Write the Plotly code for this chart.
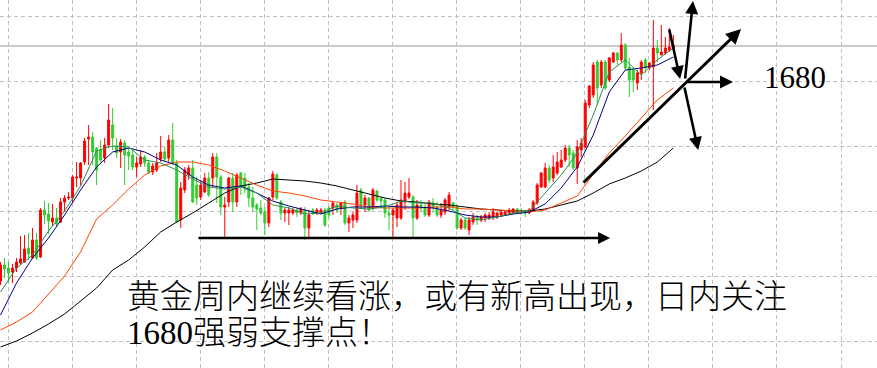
import plotly.graph_objects as go

# ---------------- data ----------------
opens = [1640.0,1643.2,1642.6,1641.8,1642.6,1643.6,1643.8,1646.6,1644.6,1648.2,
         1644.8,1654.2,1653.4,1651.8,1652.6,1651.8,1655.8,1656.6,1656.6,1660.6,
         1660.6,1663.8,1668.4,1668.8,1666.6,1666.2,1664.6,1667.2,1671.2,1667.0,
         1665.8,1667.6,1665.8,1665.2,1662.8,1663.4,1664.8,1663.6,1661.8,1662.2,
         1664.4,1665.8,1664.6,1668.2,1663.6,1652.2,1658.2,1661.2,1662.6,1659.2,
         1656.8,1657.8,1660.6,1660.6,1664.8,1660.8,1654.8,1655.8,1660.6,1655.8,
         1661.6,1660.6,1658.8,1656.6,1655.2,1654.6,1653.8,1651.6,1656.8,1661.2,
         1655.8,1653.6,1653.6,1653.6,1654.2,1653.6,1654.2,1650.6,1654.2,1653.6,
         1653.6,1654.2,1654.6,1654.6,1655.2,1654.6,1655.8,1651.6,1652.2,1652.2,
         1658.2,1655.2,1656.6,1654.6,1658.0,1656.6,1656.2,1653.6,1653.2,1652.6,
         1652.6,1655.8,1656.8,1656.8,1652.6,1655.2,1654.8,1653.2,1655.6,1654.8,
         1653.2,1653.8,1654.8,1655.6,1654.8,1650.6,1652.2,1650.2,1651.8,1652.8,
         1652.2,1652.6,1652.6,1652.8,1652.8,1653.2,1653.2,1653.6,1653.6,1654.4,
         1654.0,1653.8,1653.6,1654.0,1655.6,1658.8,1658.8,1662.6,1660.6,1661.6,
         1662.8,1664.2,1666.6,1665.6,1662.6,1666.2,1666.8,1675.2,1677.2,1683.8,
         1679.2,1683.8,1680.2,1683.8,1685.6,1684.2,1687.2,1682.8,1682.2,1679.6,
         1681.6,1684.2,1682.6,1682.8,1686.6,1685.2,1685.6,1686.2,1686.6]
highs = [1643.8,1644.6,1643.8,1643.4,1644.6,1649.0,1649.2,1649.6,1650.6,1649.6,
         1654.6,1656.0,1655.6,1655.4,1654.6,1656.6,1657.2,1657.8,1661.2,1663.8,
         1663.8,1668.6,1671.2,1669.8,1666.8,1668.2,1668.6,1675.4,1674.6,1668.6,
         1668.4,1668.2,1666.6,1666.2,1664.8,1666.2,1665.2,1664.2,1663.6,1665.6,
         1669.0,1666.8,1669.2,1671.6,1664.2,1659.8,1662.8,1663.2,1664.2,1660.8,
         1660.2,1661.6,1661.8,1665.6,1665.6,1661.2,1656.8,1660.8,1661.6,1661.6,
         1661.8,1661.6,1659.6,1658.8,1655.6,1656.2,1654.8,1656.8,1662.0,1661.6,
         1656.2,1654.6,1654.8,1654.6,1654.6,1654.8,1654.8,1654.2,1654.6,1654.6,
         1654.6,1654.6,1655.0,1655.8,1655.6,1655.8,1656.2,1653.2,1653.8,1659.2,
         1658.6,1657.2,1656.8,1658.6,1658.2,1656.8,1656.6,1654.8,1654.6,1655.8,
         1660.2,1659.8,1660.6,1657.2,1656.2,1656.2,1655.6,1656.2,1656.6,1655.8,
         1655.6,1656.6,1657.8,1655.8,1655.2,1652.6,1652.6,1652.8,1653.6,1653.2,
         1653.2,1653.6,1653.8,1654.6,1653.8,1654.2,1654.2,1654.6,1654.6,1654.6,
         1654.6,1654.2,1654.6,1656.2,1659.6,1661.8,1663.6,1663.2,1665.2,1665.8,
         1666.2,1667.2,1667.2,1666.2,1668.2,1668.6,1676.2,1679.2,1683.8,1684.2,
         1684.2,1684.2,1684.8,1685.8,1685.8,1689.6,1687.6,1684.6,1682.6,1682.2,
         1684.2,1684.6,1683.8,1692.2,1688.2,1691.2,1688.8,1690.6,1689.2]
lows = [1639.2,1640.6,1639.8,1639.6,1641.8,1643.2,1643.6,1644.2,1644.4,1644.2,
        1644.6,1651.4,1649.4,1651.0,1651.0,1651.6,1653.8,1656.2,1655.8,1658.8,
        1659.2,1663.2,1663.2,1663.2,1659.2,1663.8,1663.6,1666.6,1666.2,1664.6,
        1662.6,1659.2,1662.2,1662.2,1660.8,1662.8,1662.8,1661.4,1661.2,1661.8,
        1663.8,1663.8,1663.8,1663.2,1651.6,1650.6,1657.6,1660.2,1655.6,1655.2,
        1656.2,1657.6,1656.8,1658.8,1655.6,1653.2,1648.6,1654.8,1653.8,1654.8,
        1657.2,1657.6,1654.8,1653.8,1650.2,1653.2,1649.2,1650.8,1656.2,1656.2,
        1652.2,1651.8,1651.2,1653.2,1652.8,1653.2,1648.2,1648.8,1653.2,1653.2,
        1653.4,1650.8,1652.6,1653.2,1653.6,1653.2,1651.2,1649.8,1650.6,1651.6,
        1654.6,1653.8,1653.8,1654.2,1655.8,1654.8,1652.6,1650.2,1648.8,1650.8,
        1652.2,1654.2,1656.4,1648.8,1652.2,1653.8,1652.8,1652.8,1653.6,1652.8,
        1652.6,1653.2,1654.2,1654.2,1650.2,1650.2,1650.2,1649.2,1651.2,1651.2,
        1651.8,1651.8,1652.2,1652.2,1652.4,1652.8,1653.0,1653.2,1653.4,1653.4,
        1653.2,1652.8,1653.4,1653.8,1655.2,1658.6,1658.6,1659.6,1659.8,1661.2,
        1662.6,1663.8,1662.8,1662.2,1659.4,1664.8,1666.6,1674.6,1676.6,1675.2,
        1678.6,1678.2,1679.8,1683.6,1683.2,1683.8,1682.2,1676.8,1677.8,1678.2,
        1680.2,1681.6,1682.2,1674.2,1683.8,1685.2,1685.2,1685.8,1686.2]
closes = [1643.2,1642.4,1641.6,1642.6,1643.8,1644.4,1646.4,1645.4,1648.2,1644.6,
          1654.2,1653.2,1652.0,1652.6,1651.4,1655.8,1656.6,1656.8,1660.8,1660.8,
          1663.6,1668.0,1668.8,1665.8,1662.2,1664.2,1667.2,1672.2,1668.6,1665.6,
          1667.8,1665.2,1665.0,1662.8,1663.6,1664.8,1663.6,1661.8,1663.0,1663.6,
          1665.8,1664.4,1668.2,1663.6,1651.8,1658.6,1662.2,1662.6,1655.8,1656.6,
          1659.2,1660.6,1657.2,1664.8,1660.8,1654.8,1655.2,1660.6,1655.8,1661.2,
          1658.8,1658.8,1656.6,1654.8,1654.4,1653.6,1651.6,1656.6,1661.4,1656.6,
          1653.6,1654.2,1654.2,1654.2,1653.6,1654.4,1650.6,1653.2,1653.6,1654.2,
          1654.2,1651.2,1653.2,1655.6,1654.2,1655.6,1651.6,1652.6,1653.2,1657.6,
          1655.2,1656.6,1654.2,1658.2,1656.2,1656.0,1653.6,1653.2,1654.2,1655.2,
          1656.2,1657.6,1657.6,1652.6,1655.2,1654.6,1653.2,1655.8,1654.8,1653.2,
          1654.2,1656.2,1657.2,1654.8,1650.6,1652.2,1650.6,1652.2,1652.8,1652.2,
          1652.8,1653.2,1653.2,1653.8,1653.6,1653.8,1653.8,1654.2,1654.4,1653.6,
          1653.6,1653.6,1654.2,1655.8,1659.2,1661.6,1662.6,1660.2,1662.8,1663.8,
          1664.2,1666.6,1665.2,1662.6,1666.8,1667.6,1675.6,1679.0,1683.2,1678.6,
          1683.8,1678.6,1684.6,1685.6,1684.2,1687.2,1682.6,1680.2,1680.2,1681.6,
          1683.8,1682.6,1683.6,1686.6,1685.6,1685.8,1686.6,1686.8,1687.2]

# moving averages, read every 4th bar
ma_idx = list(range(0, 169, 4))
ma_fast = [1637.8,1642.6,1645.2,1650.0,1654.0,1659.0,1666.0,1667.0,1666.8,1664.2,
           1663.6,1662.2,1660.4,1658.8,1658.4,1658.8,1657.6,1655.2,1654.6,1653.4,
           1653.6,1655.0,1654.6,1654.4,1654.8,1656.0,1655.6,1655.6,1654.6,1652.6,
           1652.2,1652.8,1653.6,1654.0,1657.6,1661.2,1665.6,1673.2,1681.8,1684.2,
           1681.2,1684.2,1686.6]
ma_mid = [1633.2,1639.6,1644.6,1648.6,1653.2,1658.2,1662.8,1665.8,1666.6,1665.8,
          1664.2,1663.2,1660.8,1659.2,1658.6,1659.0,1657.6,1656.0,1655.0,1654.2,
          1653.4,1654.4,1654.8,1654.8,1655.0,1654.8,1654.8,1654.6,1654.0,1653.2,
          1652.8,1652.8,1653.4,1653.8,1655.4,1658.6,1662.8,1669.2,1677.8,1682.2,
          1682.6,1683.2,1684.8]
ma_slow = [1630.2,1631.8,1633.8,1637.4,1641.0,1645.8,1652.4,1655.2,1658.4,1661.2,
           1663.0,1663.8,1663.8,1663.2,1662.0,1660.6,1659.2,1658.0,1657.6,1657.0,
           1656.2,1655.8,1655.4,1654.8,1654.6,1654.6,1654.6,1654.8,1654.8,1654.4,
           1654.4,1654.2,1654.0,1653.8,1654.2,1655.6,1657.0,1661.4,1665.6,1669.0,
           1672.6,1676.2,1678.6]
ma_long = [1626.8,1628.0,1629.6,1631.4,1633.4,1636.0,1638.6,1642.2,1644.2,1646.8,
           1649.8,1651.8,1653.6,1655.6,1657.6,1659.0,1659.6,1660.4,1660.2,1660.0,
           1659.6,1659.0,1658.2,1657.4,1656.6,1656.0,1655.8,1655.4,1655.2,1654.8,
           1654.4,1654.2,1654.0,1654.0,1654.4,1655.2,1656.0,1657.6,1659.4,1660.6,
           1662.0,1663.8,1666.6]

level_label = "1680"
line1 = "黄金周内继续看涨，或有新高出现，日内关注"
line2 = "1680强弱支撑点！"

bars = list(range(len(opens)))

fig = go.Figure()
fig.add_trace(go.Candlestick(
    x=bars, open=opens, high=highs, low=lows, close=closes,
    increasing=dict(line=dict(color="#ff0000", width=1), fillcolor="#ff0000"),
    decreasing=dict(line=dict(color="#32cd32", width=1), fillcolor="#32cd32"),
    whiskerwidth=0, hoverinfo="skip", showlegend=False))

for vals, col in [(ma_long, "#000000"), (ma_slow, "#ff4500"),
                  (ma_mid, "#000080"), (ma_fast, "#2e8b57")]:
    fig.add_trace(go.Scatter(x=ma_idx, y=vals, mode="lines",
                             line=dict(color=col, width=1), hoverinfo="skip",
                             showlegend=False))

# horizontal solid reference line
fig.add_shape(type="line", xref="paper", x0=0, x1=1, yref="y", y0=1687.0, y1=1687.0,
              line=dict(color="#b8b8b8", width=1.5), layer="below")

arrows = [
    # (tail_x, tail_y, head_x, head_y, width)
    (49.06, 1648.6, 152.2, 1648.6, 2.4),
    (145.2, 1659.4, 184.9, 1690.4, 3.0),
    (170.9, 1680.2, 172.9, 1696.0, 2.6),
    (166.9, 1690.6, 169.7, 1680.4, 2.6),
    (171.2, 1679.8, 182.9, 1679.8, 2.6),
    (170.7, 1679.0, 174.2, 1666.2, 2.6),
]
for tx, ty, hx, hy, w in arrows:
    fig.add_annotation(x=hx, y=hy, ax=tx, ay=ty, xref="x", yref="y",
                       axref="x", ayref="y", text="", showarrow=True,
                       arrowhead=2, arrowsize=1, arrowwidth=w, arrowcolor="#000000")

fig.add_annotation(x=198.4, y=1680.8, xref="x", yref="y", text=level_label,
                   showarrow=False, xanchor="center", yanchor="middle",
                   font=dict(family="Liberation Serif", size=31, color="#000000"))
fig.add_annotation(x=125/877, y=1-297/368, xref="paper", yref="paper", text=line1,
                   showarrow=False, xanchor="left", yanchor="middle",
                   font=dict(family="Liberation Serif, Noto Sans CJK SC", size=33,
                             color="#000000", weight=300))
fig.add_annotation(x=125/877, y=1-333/368, xref="paper", yref="paper", text=line2,
                   showarrow=False, xanchor="left", yanchor="middle",
                   font=dict(family="Liberation Serif, Noto Sans CJK SC", size=33,
                             color="#000000", weight=300))

fig.update_layout(
    width=877, height=368, margin=dict(l=0, r=0, t=0, b=0),
    paper_bgcolor="#ffffff", plot_bgcolor="#ffffff", showlegend=False,
    boxgap=0.3,
    xaxis=dict(range=[-0.125, 218.85], rangeslider=dict(visible=False),
               showticklabels=False, ticks="", zeroline=False, showline=False,
               tick0=1.873, dtick=16, showgrid=True, gridcolor="#c0c0c0",
               gridwidth=1, griddash="4px,3px"),
    yaxis=dict(range=[1622.6, 1696.2], showticklabels=False, ticks="",
               zeroline=False, showline=False, tick0=1680, dtick=13,
               showgrid=True, gridcolor="#c0c0c0", gridwidth=1, griddash="4px,3px"),
)

fig.write_html("out.html", config={"displayModeBar": False})
